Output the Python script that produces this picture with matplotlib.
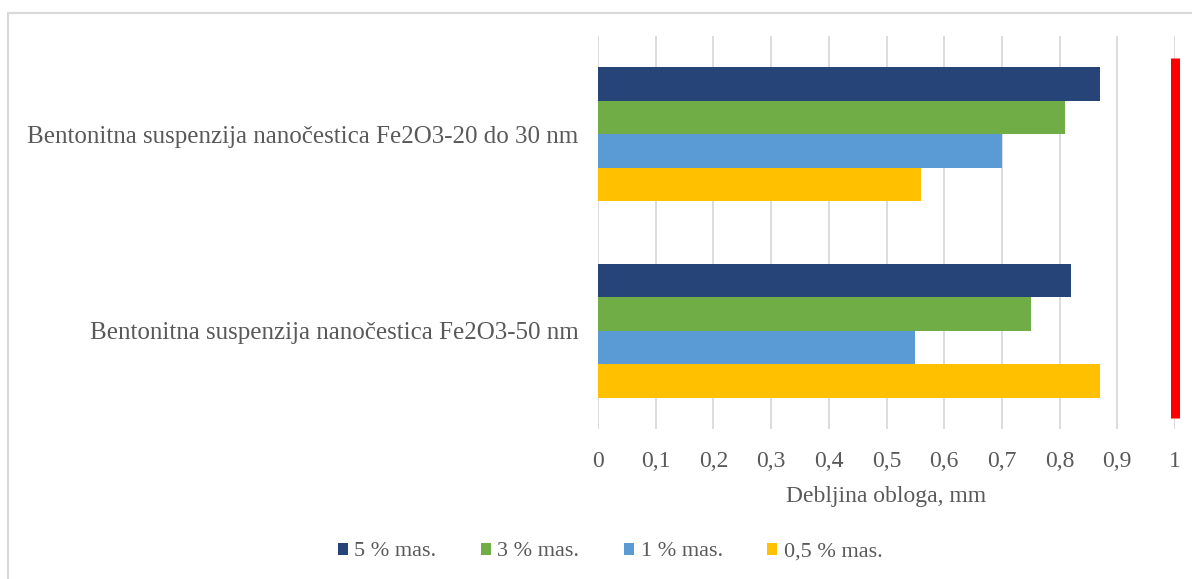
import matplotlib.pyplot as plt
from matplotlib.patches import Patch, Rectangle

plt.rcParams["font.family"] = ["Liberation Serif", "DejaVu Serif"]

# bottom category first (matplotlib y=0 at bottom)
CATEGORIES = [
    "Bentonitna suspenzija nanočestica Fe2O3-50 nm",
    "Bentonitna suspenzija nanočestica Fe2O3-20 do 30 nm",
]
SERIES = ["5 % mas.", "3 % mas.", "1 % mas.", "0,5 % mas."]
VALUES = {
    "5 % mas.":   [0.82, 0.87],
    "3 % mas.":   [0.75, 0.81],
    "1 % mas.":   [0.55, 0.70],
    "0,5 % mas.": [0.87, 0.56],
}
COLORS = {
    "5 % mas.":   "#264478",
    "3 % mas.":   "#70AD47",
    "1 % mas.":   "#5B9BD5",
    "0,5 % mas.": "#FFC000",
}
XTICKS = [0, 0.1, 0.2, 0.3, 0.4, 0.5, 0.6, 0.7, 0.8, 0.9, 1]
XTICK_LABELS = ["0", "0,1", "0,2", "0,3", "0,4", "0,5", "0,6", "0,7", "0,8", "0,9", "1"]
LIMIT = 1.0

TEXT = "#595959"
GRID = "#D9D9D9"

fig = plt.figure(figsize=(11.92, 5.79), dpi=100)
ax = fig.add_axes([598 / 1192, 1 - 429 / 579, 577 / 1192, 393 / 579])

bar_h = 0.17
offsets = [1.5 * bar_h, 0.5 * bar_h, -0.5 * bar_h, -1.5 * bar_h]
ypos = list(range(len(CATEGORIES)))
for s, off in zip(SERIES, offsets):
    ax.barh([y + off for y in ypos], VALUES[s], height=bar_h,
            color=COLORS[s], zorder=3)

# red limit marker
ax.axvline(LIMIT, ymin=0.028, ymax=0.945, color="#FF0000", linewidth=6.5,
           solid_capstyle="butt", zorder=4, clip_on=False)

ax.set_xlim(0, 1)
ax.set_ylim(-0.5, 1.5)
ax.set_xticks(XTICKS)
ax.set_xticklabels(XTICK_LABELS)
ax.set_yticks(ypos)
ax.set_yticklabels(CATEGORIES)
ax.tick_params(axis="both", length=0, colors=TEXT)
ax.tick_params(axis="x", labelsize=17, pad=16)
ax.tick_params(axis="y", labelsize=18, pad=14)
ax.grid(axis="x", color=GRID, linewidth=1.3, zorder=0)
ax.set_axisbelow(True)
for sp in ax.spines.values():
    sp.set_visible(False)

ax.set_xlabel("Debljina obloga, mm", fontsize=17, color=TEXT, labelpad=10)

handles = [Patch(facecolor=COLORS[s], label=s) for s in SERIES]
fig.legend(handles=handles, loc="center", bbox_to_anchor=(610 / 1192, 1 - 552 / 579),
           ncol=4, frameon=False, fontsize=16, labelcolor=TEXT,
           handlelength=0.45, handleheight=0.45, handletextpad=0.3,
           columnspacing=2.0)

# chart-area border
fig.add_artist(Rectangle((8 / 1192, -0.05), 1.1, 1 - 13 / 579 + 0.05,
                         transform=fig.transFigure, fill=False,
                         edgecolor=GRID, linewidth=1.5))

fig.savefig("out.png", dpi=100)
